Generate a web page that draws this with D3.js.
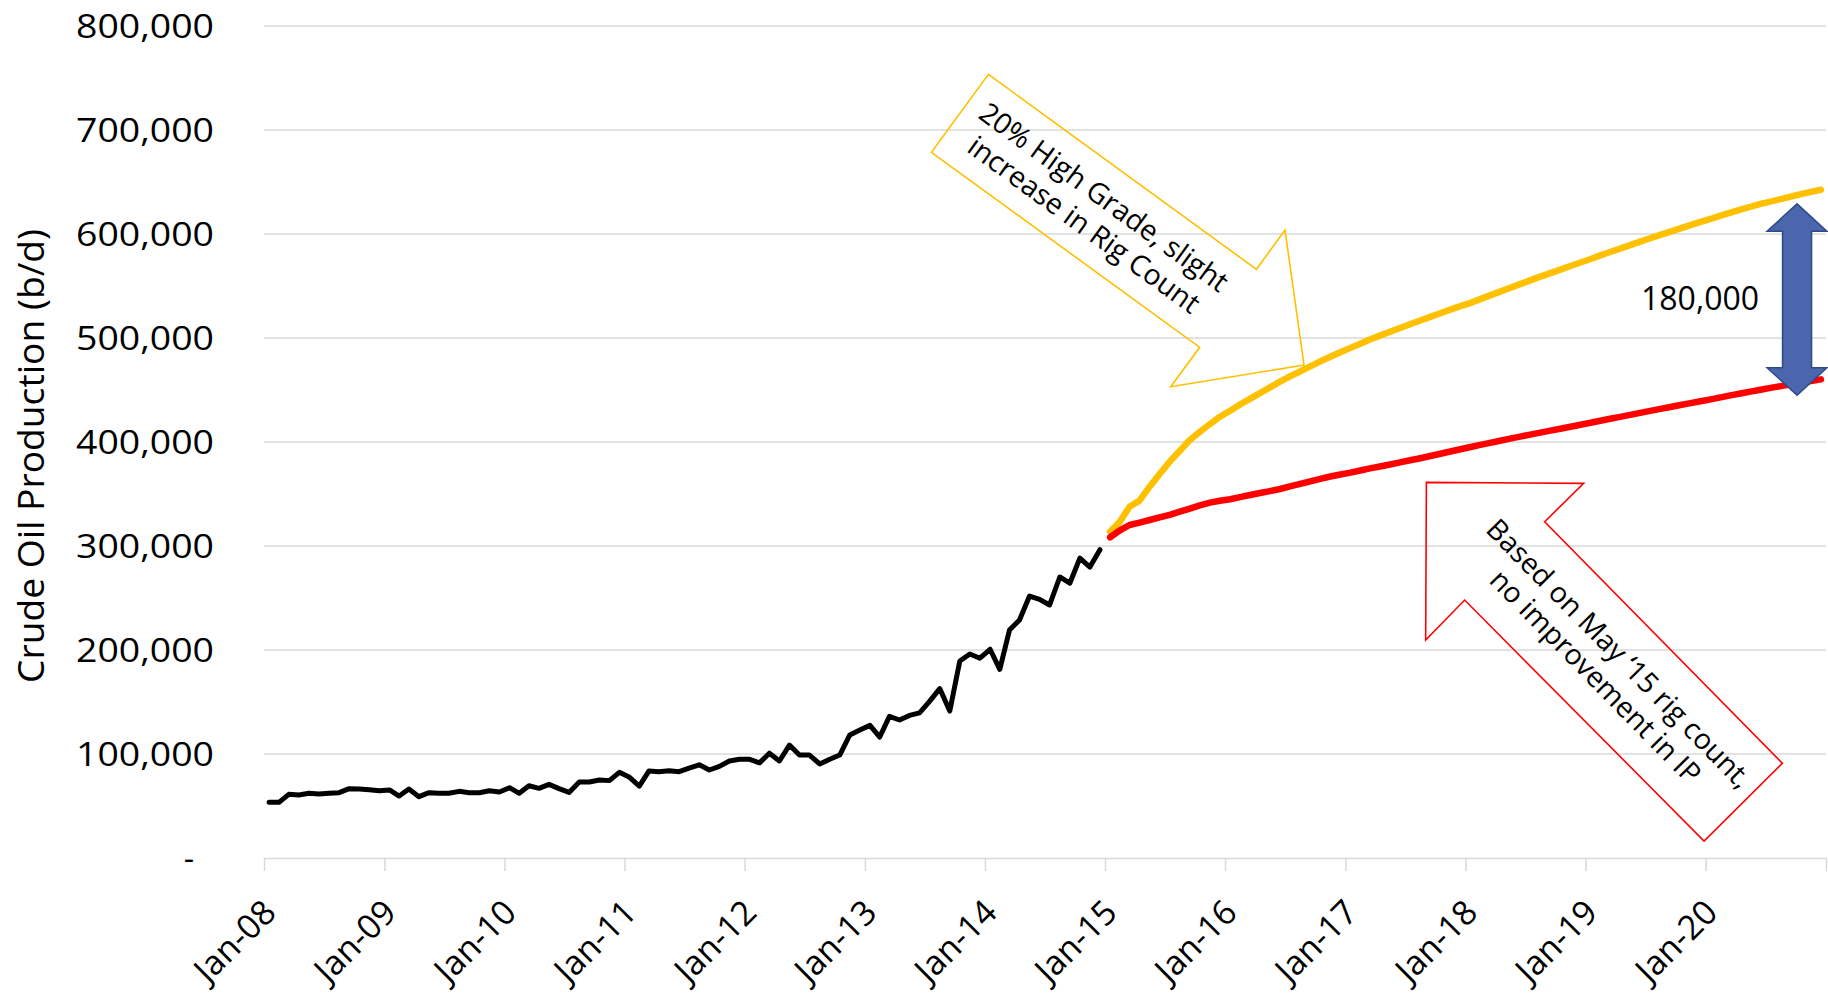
<!DOCTYPE html>
<html>
<head>
<meta charset="utf-8">
<script src="https://cdn.jsdelivr.net/npm/d3@7"></script>
<style>
  body { margin: 0; background: #fff; }
  svg { display: block; font-family: "Open Sans", sans-serif; }
</style>
</head>
<body>
<svg id="chart" width="1828" height="995"></svg>
<script>
// Historical crude oil production (b/d), monthly from Jan-08 to Dec-14
var actualStart = new Date(Date.UTC(2008, 0, 1));
var actualProduction = [
  53500, 53500, 61200, 60600, 62200, 61600, 62200, 62800, 66700, 66300, 65700, 64700,
  65400, 59600, 66300, 59000, 62800, 62200, 62200, 64100, 62800, 62800, 64700, 63500,
  67600, 62200, 69500, 67000, 70800, 66700, 63100, 73100, 73100, 75000, 74400, 82400,
  77600, 69200, 83700, 83000, 84000, 83000, 86500, 89600, 84600, 88100, 93300, 94900,
  94900, 91500, 100800, 93300, 108600, 99000, 99000, 90400, 94900, 99000, 118300, 123100,
  127500, 116300, 136200, 132700, 137100, 139500, 150600, 162900, 141300, 189400, 196200, 192100,
  200700, 181400, 219200, 228800, 251900, 248700, 243300, 270200, 264200, 288300, 279700, 296500
];

// Forecasts, monthly from Jan-15 to Dec-20
var forecastStart = new Date(Date.UTC(2015, 0, 1));
var highGrade = [
  313700, 323400, 337800, 343600, 357000, 369200, 381000, 391600, 401900, 409900, 417300, 424300,
  430100, 436000, 441500, 447000, 452500, 458000, 463000, 468000, 472800, 477500, 482000, 486300,
  490500, 494500, 498500, 502300, 506000, 509600, 513200, 516800, 520300, 523800, 527300, 530700,
  533800, 537400, 541000, 544600, 548200, 551800, 555400, 559000, 562400, 565800, 569200, 572600,
  576000, 579400, 582700, 586000, 589300, 592600, 595900, 599200, 602300, 605400, 608500, 611600,
  614600, 617600, 620600, 623400, 626200, 629000, 631200, 633600, 636000, 638300, 640500, 642500
];
var mayRigCount = [
  308400, 315000, 320200, 322500, 325000, 327500, 330000, 333000, 336000, 339000, 341700, 343500,
  345000, 347000, 349000, 351000, 352800, 354800, 357300, 359800, 362200, 364600, 366800, 368800,
  370600, 372600, 374600, 376500, 378400, 380400, 382400, 384400, 386500, 388700, 390900, 393000,
  395200, 397200, 399200, 401200, 403200, 405200, 407100, 409000, 410900, 412800, 414700, 416600,
  418500, 420400, 422300, 424200, 426100, 428000, 429900, 431800, 433700, 435600, 437400, 439200,
  441000, 442900, 444800, 446600, 448400, 450200, 452000, 453700, 455400, 457000, 458600, 460200
];

var yTicks = [0, 100000, 200000, 300000, 400000, 500000, 600000, 700000, 800000];
var yearTicks = d3.utcYear.range(new Date(Date.UTC(2008, 0, 1)), new Date(Date.UTC(2022, 0, 1)));

// Annotations
var gapLabel = "180,000";
var gapHigh = 629000, gapLow = 445000, gapDate = new Date(Date.UTC(2020, 9, 5));
var highGradeText = ["20% High Grade, slight", "increase in Rig Count"];
var mayRigText = ["Based on May \u201815 rig count,", "no improvement in IP"];

var svg = d3.select("#chart");
var x = d3.scaleUtc()
  .domain([new Date(Date.UTC(2008, 0, 1)), new Date(Date.UTC(2021, 0, 1))])
  .range([264, 1826]);
var y = d3.scaleLinear().domain([0, 800000]).range([858, 26]);

// points sit in the middle of their month
function monthX(start, i) {
  return (x(d3.utcMonth.offset(start, i)) + x(d3.utcMonth.offset(start, i + 1))) / 2;
}

// Gridlines
svg.append("g")
  .selectAll("line")
  .data(yTicks.filter(v => v > 0))
  .enter()
  .append("line")
  .attr("x1", x.range()[0])
  .attr("x2", x.range()[1])
  .attr("y1", d => y(d))
  .attr("y2", d => y(d))
  .attr("stroke", "#d9d9d9")
  .attr("stroke-width", 1.5);

// Y axis labels
var yAxis = svg.append("g")
  .attr("transform", "translate(" + x.range()[0] + ",0)")
  .call(d3.axisLeft(y).tickValues(yTicks).tickSize(0).tickPadding(50)
    .tickFormat(d => d === 0 ? "-" : d3.format(",")(d)));
yAxis.select(".domain").remove();
yAxis.selectAll("text")
  .attr("font-family", "Open Sans")
  .attr("font-size", 32)
  .attr("fill", "#000")
  .attr("dy", "0.35em")
  .each(function (d) {
    if (d === 0) d3.select(this).attr("dx", -20);
    else d3.select(this).attr("textLength", 138).attr("lengthAdjust", "spacingAndGlyphs");
  });

// X axis
var xAxis = svg.append("g")
  .attr("transform", "translate(0," + y(0) + ")")
  .call(d3.axisBottom(x).tickValues(yearTicks).tickSize(13).tickSizeOuter(0)
    .tickFormat(d => d.getUTCFullYear() > 2020 ? "" : d3.utcFormat("%b-%y")(d)));
xAxis.select(".domain").attr("stroke", "#d9d9d9").attr("stroke-width", 1.5);
xAxis.selectAll(".tick line").attr("stroke", "#d9d9d9").attr("stroke-width", 1.5);
xAxis.selectAll("text")
  .attr("font-family", "Open Sans")
  .attr("font-size", 34)
  .attr("fill", "#000")
  .attr("y", 0)
  .attr("dy", "0.35em")
  .attr("text-anchor", "end")
  .attr("transform", "translate(5,48) rotate(-45)");

// Y axis title
svg.append("text")
  .attr("transform", "translate(44," + ((y(0) + y(800000)) / 2 + 14) + ") rotate(-90)")
  .attr("text-anchor", "middle")
  .attr("font-size", 36)
  .attr("textLength", 454)
  .attr("lengthAdjust", "spacingAndGlyphs")
  .text("Crude Oil Production (b/d)");

// Series lines
function drawSeries(values, start, color, width) {
  svg.append("path")
    .datum(values)
    .attr("fill", "none")
    .attr("stroke", color)
    .attr("stroke-width", width)
    .attr("stroke-linejoin", "round")
    .attr("stroke-linecap", "round")
    .attr("d", d3.line().x((d, i) => monthX(start, i)).y(d => y(d)));
}
drawSeries(actualProduction, actualStart, "#000", 5);
drawSeries(highGrade, forecastStart, "#ffc000", 6.5);
drawSeries(mayRigCount, forecastStart, "#ff0000", 6.5);

// Callout arrows (outlines only)
function callout(tip, offsets, color, lines, center, angle, spacing) {
  let pts = offsets.map(o => [tip[0] + o[0], tip[1] + o[1]]);
  svg.append("path")
    .attr("d", "M" + pts.join("L") + "Z")
    .attr("fill", "none")
    .attr("stroke", color)
    .attr("stroke-width", 1.6)
    .attr("stroke-linejoin", "miter");
  let t = svg.append("text")
    .attr("transform", "translate(" + (tip[0] + center[0]) + "," + (tip[1] + center[1]) + ") rotate(" + angle + ")")
    .attr("text-anchor", "middle")
    .attr("font-size", 28.5)
    .attr("fill", "#000");
  lines.forEach((s, i) => {
    t.append("tspan")
      .attr("x", 0)
      .attr("y", (i - (lines.length - 1) / 2) * spacing)
      .attr("dy", "0.35em")
      .text(s);
  });
}

callout([x(new Date(Date.UTC(2016, 7, 28))), y(474000)],
  [[0, 0], [-133.3, 21.7], [-104.3, -17.7], [-372.6, -212.7], [-315.6, -290.7], [-47.6, -95.7], [-19, -135]],
  "#ffc000", highGradeText, [-210, -154.1], 36, 34);

callout([x(new Date(Date.UTC(2017, 8, 4))), y(361200)],
  [[0, 0], [157.3, 1], [118.3, 39.4], [356, 281], [277.7, 358.7], [38.3, 117.7], [-0.7, 157.7]],
  "#ff0000", mayRigText, [181, 182.7], 45.5, 33);

// Double arrow showing the gap between the scenarios
var arrowX = x(gapDate), arrowTop = y(gapHigh), arrowBottom = y(gapLow);
var head = 27.5, half = 30, shaft = 14.5;
svg.append("path")
  .attr("d", [
    "M", arrowX, arrowTop, "L", arrowX + half, arrowTop + head, "L", arrowX + shaft, arrowTop + head,
    "L", arrowX + shaft, arrowBottom - head, "L", arrowX + half, arrowBottom - head, "L", arrowX, arrowBottom,
    "L", arrowX - half, arrowBottom - head, "L", arrowX - shaft, arrowBottom - head,
    "L", arrowX - shaft, arrowTop + head, "L", arrowX - half, arrowTop + head, "Z"].join(" "))
  .attr("fill", "#4a66ac")
  .attr("stroke", "#2f4b87")
  .attr("stroke-width", 1.5);

svg.append("text")
  .attr("x", arrowX - 38)
  .attr("y", (arrowTop + arrowBottom) / 2 + 10)
  .attr("text-anchor", "end")
  .attr("font-size", 32)
  .attr("fill", "#000")
  .text(gapLabel);
</script>
</body>
</html>
